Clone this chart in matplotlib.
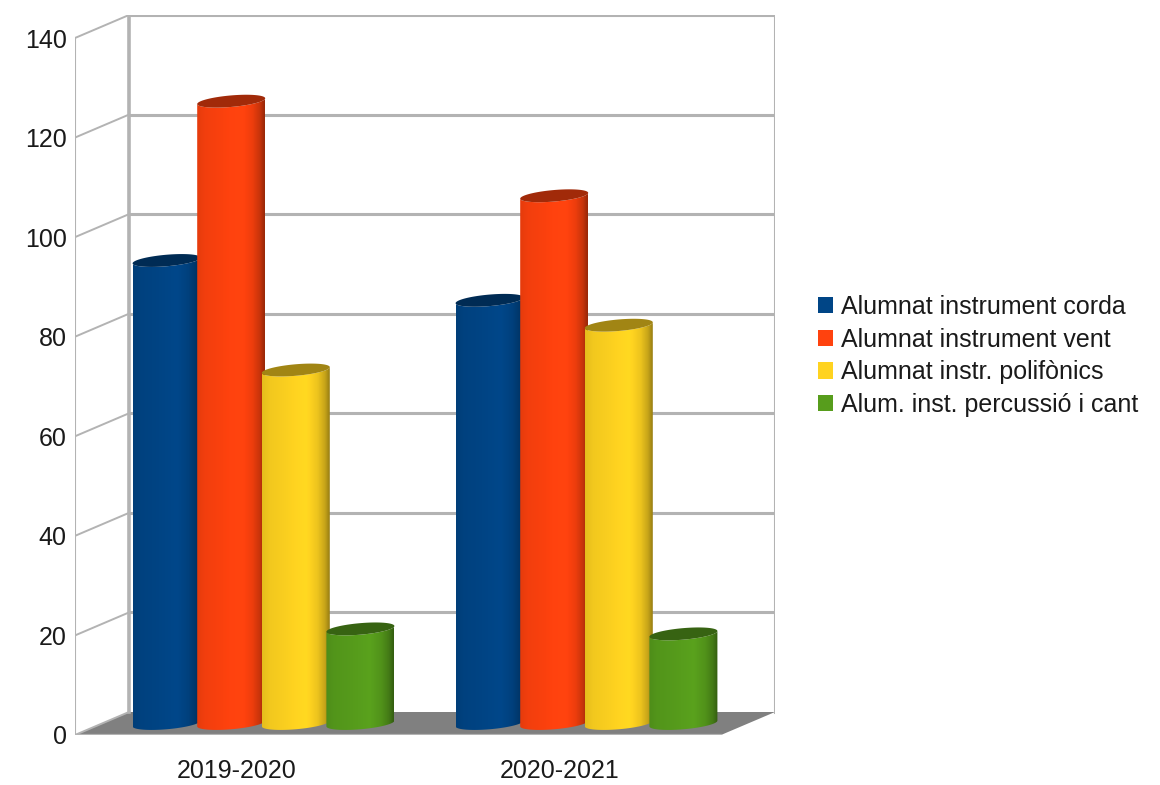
#!/usr/bin/env python
"""Oblique 3D cylinder chart: alumnat per curs i tipus d'instrument."""
import matplotlib

matplotlib.use("Agg")
import matplotlib.pyplot as plt  # noqa: E402
import numpy as np  # noqa: E402
from matplotlib.colors import to_rgb  # noqa: E402
from matplotlib.patches import Patch, Polygon  # noqa: E402

plt.rcParams["font.family"] = ["Liberation Sans", "DejaVu Sans"]

years = ["2019-2020", "2020-2021"]
series_names = [
    "Alumnat instrument corda",
    "Alumnat instrument vent",
    "Alumnat instr. polifònics",
    "Alum. inst. percussió i cant",
]
corda = [93, 85]
vent = [125, 106]
polifonics = [71, 80]
percussio = [19, 18]
colors = ["#004586", "#ff420e", "#ffd320", "#579d1c"]
yticks = [0, 20, 40, 60, 80, 100, 120, 140]

GRID = "#b3b3b3"
# wall depth of the fake 3D box, in data units
DEPTH_X = 54 / 323
DEPTH_Y = 23 * 140 / 697
BAR_STEP = 0.2
BAR_HALF = 34 / 323
ELL = 0.28  # cylinder depth as part of the box depth


def shade(color):
    pos = [0, 0.12, 0.35, 0.65, 0.82, 0.93, 1]
    fac = [0.9, 0.95, 0.98, 1.03, 0.93, 0.78, 0.6]
    vals = np.interp(np.linspace(0, 1, 96), pos, fac)
    rgb = np.array(to_rgb(color))
    return np.clip(vals[:, None] * rgb, 0, 1)[None, :, :]


def draw_cylinder(ax, cx, value, color, z):
    ex, ey = ELL * DEPTH_X, ELL * DEPTH_Y
    w = np.sqrt(BAR_HALF**2 - ex**2)
    base = DEPTH_Y / 2
    cx = cx + DEPTH_X / 2
    t0 = np.arctan2(ex, w)
    t = np.linspace(t0 + np.pi, t0 + 2 * np.pi, 60)
    x = cx + w * np.cos(t) + ex * np.sin(t)
    y = ey * np.sin(t)
    outline = np.r_[
        np.c_[x, base + y],
        np.c_[x[::-1], base + value + y[::-1]],
    ]
    body = Polygon(outline, closed=True, transform=ax.transData, fc="none", ec="none")
    ax.add_patch(body)
    im = ax.imshow(
        shade(color),
        extent=(cx - BAR_HALF, cx + BAR_HALF, base - ey, base + value + ey),
        aspect="auto",
        interpolation="bilinear",
        zorder=z,
    )
    im.set_clip_path(body)
    tt = np.linspace(0, 2 * np.pi, 90)
    top = np.c_[
        cx + w * np.cos(tt) + ex * np.sin(tt),
        base + value + ey * np.sin(tt),
    ]
    dark = tuple(0.63 * c for c in to_rgb(color))
    ax.add_patch(Polygon(top, closed=True, fc=dark, ec="none", zorder=z + 0.1))


fig = plt.figure(figsize=(11.6, 7.85), dpi=100)
ax = fig.add_axes([75 / 1160, 50 / 785, 700 / 1160, 720 / 785])

# floor
ax.add_patch(
    Polygon(
        [(0, 0), (2, 0), (2 + DEPTH_X, DEPTH_Y), (DEPTH_X, DEPTH_Y)],
        closed=True,
        fc="#808080",
        ec="none",
        zorder=1,
    )
)
ax.plot([0, 2], [0, 0], color=GRID, lw=1.6, zorder=1.5)

# walls
for v in yticks[1:]:
    ax.plot([DEPTH_X, 2 + DEPTH_X], [v + DEPTH_Y] * 2, color=GRID, lw=2.2, zorder=2)
for v in yticks:
    ax.plot([0, DEPTH_X], [v, v + DEPTH_Y], color=GRID, lw=1.4, zorder=2)
ax.plot([0, 0], [0, 140], color=GRID, lw=1.5, zorder=2)
ax.plot([DEPTH_X] * 2, [DEPTH_Y, 140 + DEPTH_Y], color=GRID, lw=2.6, zorder=2)
ax.plot([2 + DEPTH_X] * 2, [DEPTH_Y, 140 + DEPTH_Y], color=GRID, lw=2.2, zorder=2)

# bars, left to right so each one overlaps the previous
z = 3
for i in range(len(years)):
    values = [corda[i], vent[i], polifonics[i], percussio[i]]
    for j, (val, col) in enumerate(zip(values, colors)):
        draw_cylinder(ax, i + 0.5 + (j - 1.5) * BAR_STEP, val, col, z)
        z += 1

ax.set_xlim(0, 2 + DEPTH_X)
ax.set_ylim(0, 140 + DEPTH_Y)
ax.set_xticks([0.5, 1.5])
ax.set_xticklabels(years)
ax.set_yticks(yticks)
ax.tick_params(axis="x", length=0, pad=17, labelsize=18, labelcolor="#1a1a1a")
ax.tick_params(axis="y", length=0, pad=6, labelsize=18, labelcolor="#1a1a1a")
for s in ax.spines.values():
    s.set_visible(False)

handles = [Patch(fc=c, ec="none") for c in colors]
fig.legend(
    handles,
    series_names,
    loc="center left",
    bbox_to_anchor=(808 / 1160, 1 - 356 / 785),
    frameon=False,
    fontsize=18,
    handlelength=0.62,
    handleheight=0.62,
    handletextpad=0.3,
    labelspacing=0.35,
    labelcolor="#1a1a1a",
    borderaxespad=0,
)

fig.savefig("out.png", dpi=100)
